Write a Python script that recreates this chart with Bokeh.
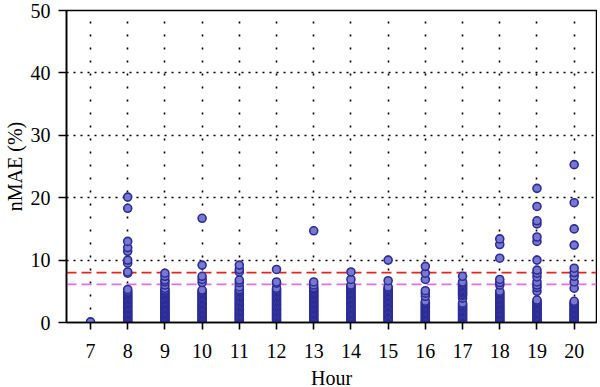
from bokeh.plotting import figure
from bokeh.models import ColumnDataSource, Span, FixedTicker, Range1d
from bokeh.embed import file_html
from bokeh.resources import INLINE

# nMAE (%) values per hour (dense columns read as stacked points)
hours = [7, 8, 9, 10, 11, 12, 13, 14, 15, 16, 17, 18, 19, 20]
h7 = [0.1]
h8 = [20.1, 18.3, 13.0, 12.0, 11.4, 10.0, 9.5, 8.1, 7.9, 5.3, 5.0, 4.8, 4.6, 4.4, 4.2, 4.0, 3.8, 3.6, 3.4, 3.2,
      3.0, 2.8, 2.6, 2.4, 2.2, 2.0, 1.8, 1.6, 1.4, 1.2, 1.0, 0.8, 0.6, 0.4, 0.2, 0.1]
h9 = [7.9, 7.4, 6.8, 6.5, 6.0, 5.5, 5.2, 5.0, 4.8, 4.6, 4.4, 4.2, 4.0, 3.8, 3.6, 3.4, 3.2, 3.0, 2.8, 2.6,
      2.4, 2.2, 2.0, 1.8, 1.6, 1.4, 1.2, 1.0, 0.8, 0.6, 0.4, 0.2, 0.1]
h10 = [16.7, 9.2, 7.4, 6.9, 6.4, 5.2, 5.0, 4.8, 4.6, 4.4, 4.2, 4.0, 3.8, 3.6, 3.4, 3.2, 3.0, 2.8, 2.6, 2.4,
       2.2, 2.0, 1.8, 1.6, 1.4, 1.2, 1.0, 0.8, 0.6, 0.4, 0.2, 0.1]
h11 = [9.2, 8.5, 8.1, 6.8, 6.4, 5.7, 5.3, 5.1, 4.9, 4.7, 4.5, 4.3, 4.1, 3.9, 3.7, 3.5, 3.3, 3.1, 2.9, 2.7,
       2.5, 2.3, 2.1, 1.9, 1.7, 1.5, 1.3, 1.1, 0.9, 0.7, 0.5, 0.3, 0.1]
h12 = [8.5, 6.5, 6.3, 5.5, 5.3, 5.1, 4.9, 4.7, 4.5, 4.3, 4.1, 3.9, 3.7, 3.5, 3.3, 3.1, 2.9, 2.7, 2.5, 2.3,
       2.1, 1.9, 1.7, 1.5, 1.3, 1.1, 0.9, 0.7, 0.5, 0.3, 0.1]
h13 = [14.7, 6.5, 6.0, 5.6, 5.4, 5.2, 5.0, 4.8, 4.6, 4.4, 4.2, 4.0, 3.8, 3.6, 3.4, 3.2, 3.0, 2.8, 2.6, 2.4,
       2.2, 2.0, 1.8, 1.6, 1.4, 1.2, 1.0, 0.8, 0.6, 0.4, 0.2, 0.1]
h14 = [8.1, 6.9, 6.0, 5.8, 5.6, 5.4, 5.2, 5.0, 4.8, 4.6, 4.4, 4.2, 4.0, 3.8, 3.6, 3.4, 3.2, 3.0, 2.8, 2.6,
       2.4, 2.2, 2.0, 1.8, 1.6, 1.4, 1.2, 1.0, 0.8, 0.6, 0.4, 0.2, 0.1]
h15 = [10.0, 6.7, 5.7, 5.5, 5.3, 5.1, 4.9, 4.7, 4.5, 4.3, 4.1, 3.9, 3.7, 3.5, 3.3, 3.1, 2.9, 2.7, 2.5, 2.3,
       2.1, 1.9, 1.7, 1.5, 1.3, 1.1, 0.9, 0.7, 0.5, 0.3, 0.1]
h16 = [9.0, 7.9, 6.9, 5.1, 4.7, 4.2, 3.4, 3.2, 3.0, 2.8, 2.6, 2.4, 2.2, 2.0, 1.8, 1.6, 1.4, 1.2, 1.0, 0.8,
       0.6, 0.4, 0.2, 0.1]
h17 = [7.4, 6.5, 6.3, 6.1, 5.9, 5.7, 5.5, 5.3, 5.1, 4.9, 4.7, 4.5, 4.3, 3.9, 3.1, 2.9, 2.7, 2.5, 2.3, 2.1,
       1.9, 1.7, 1.5, 1.3, 1.1, 0.9, 0.7, 0.5, 0.3, 0.1]
h18 = [13.4, 12.5, 10.3, 6.9, 6.4, 6.0, 5.0, 4.8, 4.6, 4.4, 4.2, 4.0, 3.8, 3.6, 3.4, 3.2, 3.0, 2.8, 2.6, 2.4,
       2.2, 2.0, 1.8, 1.6, 1.4, 1.2, 1.0, 0.8, 0.6, 0.4, 0.2, 0.1]
h19 = [21.5, 18.6, 16.3, 15.8, 13.7, 13.0, 10.0, 8.4, 7.9, 7.3, 6.5, 6.0, 5.6, 5.0, 3.6, 3.4, 3.2, 3.0, 2.8, 2.6,
       2.4, 2.2, 2.0, 1.8, 1.6, 1.4, 1.2, 1.0, 0.8, 0.6, 0.4, 0.2, 0.1]
h20 = [25.3, 19.2, 15.0, 12.4, 8.7, 8.0, 7.4, 6.5, 5.5, 3.4, 3.2, 3.0, 2.8, 2.6, 2.4, 2.2, 2.0, 1.8, 1.6, 1.4,
       1.2, 1.0, 0.8, 0.6, 0.4, 0.2, 0.1]
values_by_hour = [h7, h8, h9, h10, h11, h12, h13, h14, h15, h16, h17, h18, h19, h20]

red_threshold = 8.0
violet_threshold = 6.1
y_ticks = [0, 10, 20, 30, 40, 50]

xs, ys = [], []
for h, vals in zip(hours, values_by_hour):
    for v in sorted(vals):
        xs.append(h)
        ys.append(v)
src = ColumnDataSource(dict(hour=xs, nmae=ys))

FONT = "Liberation Serif"

p = figure(frame_width=530, frame_height=312,
           min_border_left=61, min_border_right=1, min_border_top=10, min_border_bottom=64,
           x_range=Range1d(6.355, 20.6), y_range=Range1d(0, 50),
           output_backend="svg", toolbar_location=None,
           background_fill_color="white", border_fill_color="white")

p.outline_line_color = "black"
p.outline_line_width = 1.5
p.outline_line_alpha = 1.0

# grids (dotted)
p.xgrid.ticker = FixedTicker(ticks=hours)
p.ygrid.ticker = FixedTicker(ticks=[10, 20, 30, 40])
p.xgrid.grid_line_color = "black"
p.xgrid.grid_line_width = 1.6
p.xgrid.grid_line_dash = "2 11"
p.ygrid.grid_line_color = "black"
p.ygrid.grid_line_width = 1.6
p.ygrid.grid_line_dash = "2 5"

# reference lines
p.add_layout(Span(location=red_threshold, dimension="width", line_color="#e8221c",
                  line_width=1.6, line_dash="10 5", level="underlay"))
p.add_layout(Span(location=violet_threshold, dimension="width", line_color="#e070e4",
                  line_width=1.8, line_dash="10 5", level="underlay"))

p.scatter("hour", "nmae", source=src, size=8, marker="circle",
          fill_color="#7878cf", line_color="#2c2c97", line_width=1.6)

# axes
for ax in (p.xaxis[0], p.yaxis[0]):
    ax.axis_line_color = "black"
    ax.axis_line_width = 1.6
    ax.major_tick_line_color = "black"
    ax.major_tick_line_width = 1.6
    ax.major_tick_in = 0
    ax.minor_tick_line_color = None
    ax.major_label_text_font = FONT
    ax.major_label_text_font_size = "20px"
    ax.major_label_text_color = "black"
    ax.axis_label_text_font = FONT
    ax.axis_label_text_font_size = "20px"
    ax.axis_label_text_font_style = "normal"
    ax.axis_label_text_color = "black"

p.xaxis.ticker = FixedTicker(ticks=hours)
p.yaxis.ticker = FixedTicker(ticks=y_ticks)
p.xaxis.major_tick_out = 7
p.yaxis.major_tick_out = 8
p.xaxis.major_label_standoff = 14
p.yaxis.major_label_standoff = 8
p.xaxis.axis_label = "Hour"
p.yaxis.axis_label = "nMAE (%)"
p.xaxis.axis_label_standoff = 6
p.yaxis.axis_label_standoff = 2

open("out.html", "w").write(file_html(p, INLINE))
